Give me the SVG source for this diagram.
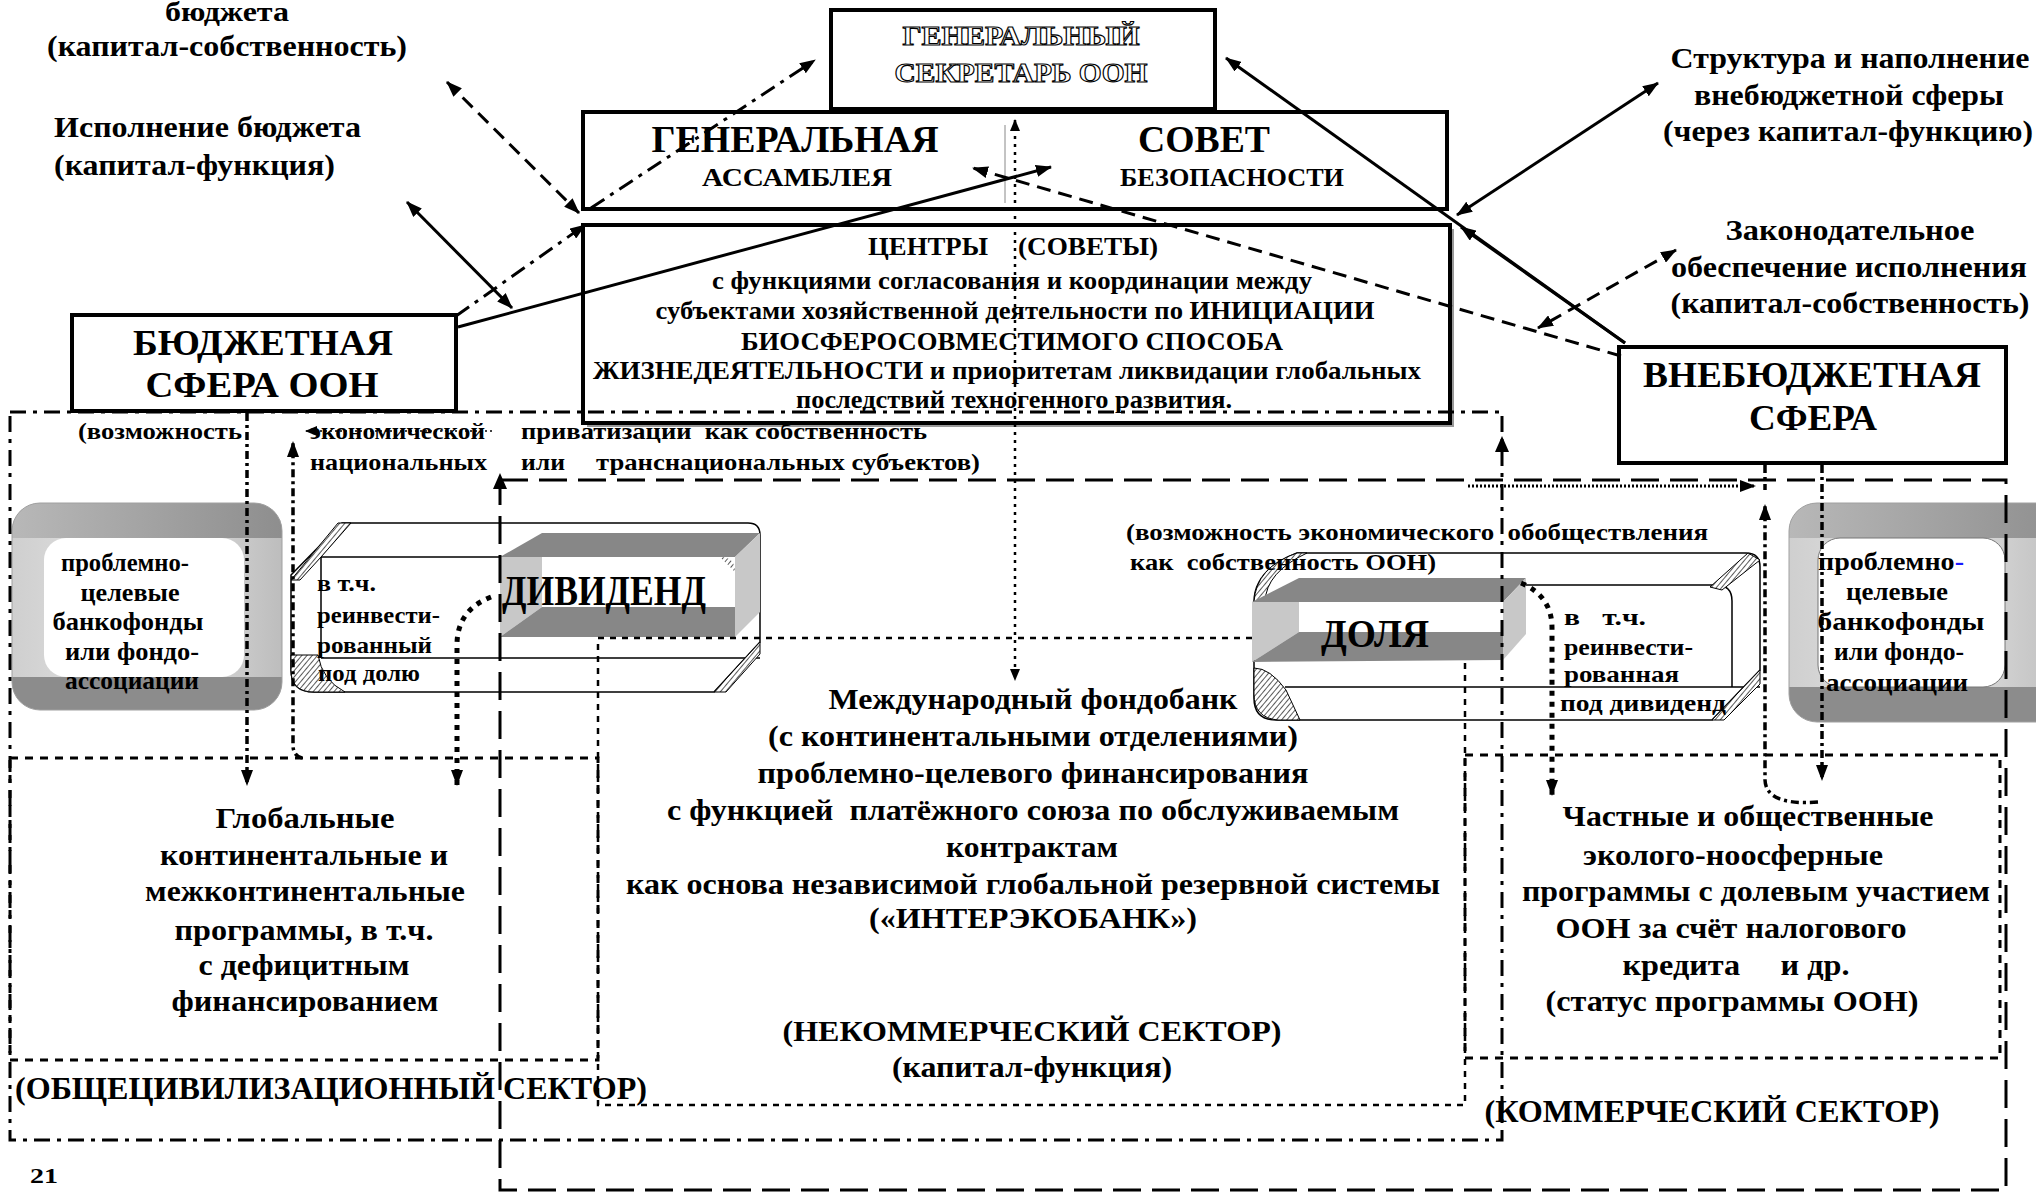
<svg xmlns="http://www.w3.org/2000/svg" width="2036" height="1192" viewBox="0 0 2036 1192">
<style>
.t{font-family:"Liberation Serif","Times New Roman",serif;font-weight:bold;fill:#000}
.c{text-anchor:middle}
.box{fill:#fff;stroke:#000;stroke-width:4}
.ln{fill:none;stroke:#000;stroke-width:3}
.thin{fill:none;stroke:#000;stroke-width:1.5}
.dash{stroke-dasharray:14 8}
.dd{stroke-dasharray:16 7 4 7}
.brk{stroke-dasharray:8 4 3 4;stroke-width:3.5}
.outline{fill:#fff;stroke:#000;stroke-width:1.1;font-weight:bold}
.dark{fill:#878787}
.light{fill:#c8c8c8}
</style>
<defs>
<marker id="ah" viewBox="0 0 16 12" refX="15" refY="6" markerWidth="16" markerHeight="12" markerUnits="userSpaceOnUse" orient="auto-start-reverse"><path d="M0,0 L16,6 L0,12 z" fill="#000"/></marker>
<marker id="ahs" viewBox="0 0 12 10" refX="11" refY="5" markerWidth="12" markerHeight="10" markerUnits="userSpaceOnUse" orient="auto-start-reverse"><path d="M0,0 L12,5 L0,10 z" fill="#000"/></marker>
<pattern id="hatch" width="4" height="4" patternUnits="userSpaceOnUse" patternTransform="rotate(40)"><rect width="4" height="4" fill="#fff"/><line x1="0" y1="0" x2="0" y2="4" stroke="#000" stroke-width="1.3"/></pattern>
<linearGradient id="gTop" x1="0" y1="0" x2="1" y2="0"><stop offset="0" stop-color="#b8b8b8"/><stop offset="1" stop-color="#8e8e8e"/></linearGradient>
<linearGradient id="gSide" x1="0" y1="0" x2="1" y2="0"><stop offset="0" stop-color="#cfcfcf"/><stop offset="0.5" stop-color="#e6e6e6"/><stop offset="1" stop-color="#bdbdbd"/></linearGradient>
<clipPath id="clipBL"><rect x="12" y="503" width="270" height="207" rx="28"/></clipPath>
<clipPath id="clipBR"><rect x="1789" y="503" width="280" height="219" rx="28"/></clipPath>
</defs>
<rect width="2036" height="1192" fill="#fff"/>

<!-- bank boxes -->
<g id="bank-left">
<g clip-path="url(#clipBL)">
<rect x="12" y="503" width="270" height="207" fill="url(#gSide)"/>
<rect x="12" y="503" width="270" height="35" fill="url(#gTop)"/>
<rect x="12" y="677" width="270" height="33" fill="#8c8c8c"/>
</g>
<rect x="12" y="503" width="270" height="207" rx="28" fill="none" stroke="#a0a0a0" stroke-width="1"/>
<rect x="44" y="538" width="200" height="139" rx="22" fill="#fff"/>
<text class="t c" font-size="25" x="125" y="571" textLength="128" lengthAdjust="spacingAndGlyphs">проблемно-</text>
<text class="t c" font-size="25" x="130" y="601" textLength="99" lengthAdjust="spacingAndGlyphs">целевые</text>
<text class="t c" font-size="25" x="128" y="630" textLength="151" lengthAdjust="spacingAndGlyphs">банкофонды</text>
<text class="t c" font-size="25" x="132" y="660" textLength="134" lengthAdjust="spacingAndGlyphs">или фондо-</text>
<text class="t c" font-size="25" x="132" y="689" textLength="134" lengthAdjust="spacingAndGlyphs">ассоциации</text>
</g>

<g id="bank-right">
<g clip-path="url(#clipBR)">
<rect x="1789" y="503" width="280" height="219" fill="url(#gSide)"/>
<rect x="1789" y="503" width="280" height="35" fill="url(#gTop)"/>
<rect x="1789" y="687" width="280" height="35" fill="#8c8c8c"/>
</g>
<rect x="1789" y="503" width="280" height="219" rx="28" fill="none" stroke="#a0a0a0" stroke-width="1"/>
<rect x="1818" y="538" width="187" height="149" rx="22" fill="#fff" stroke="#777" stroke-width="1"/>
<text class="t c" font-size="25" x="1891" y="570" textLength="146" lengthAdjust="spacingAndGlyphs">проблемно<tspan fill="#1a1aff">-</tspan></text>
<text class="t c" font-size="25" x="1897" y="600" textLength="102" lengthAdjust="spacingAndGlyphs">целевые</text>
<text class="t c" font-size="25" x="1901" y="630" textLength="167" lengthAdjust="spacingAndGlyphs">банкофонды</text>
<text class="t c" font-size="25" x="1899" y="660" textLength="130" lengthAdjust="spacingAndGlyphs">или фондо-</text>
<text class="t c" font-size="25" x="1897" y="691" textLength="142" lengthAdjust="spacingAndGlyphs">ассоциации</text>
</g>

<!-- pipes -->
<g id="pipe-dividend">
<path d="M342,523 H748 Q760,523 760,535 V642 L714,692 H314 Q291,692 291,670 V575 Z" fill="#fff" stroke="#000" stroke-width="1.5"/>
<path d="M321,557 H500 M321,557 V658 M321,658 H760" class="thin"/>
<polygon points="291,580 338,523 351,523 321,557 300,580" fill="url(#hatch)" stroke="#000" stroke-width="1"/>
<path d="M291,655 H318 Q322,680 345,692 H314 Q291,692 291,670 Z" fill="url(#hatch)" stroke="#000" stroke-width="1"/>
<polygon points="714,692 726,692 760,654 760,642" fill="url(#hatch)" stroke="#000" stroke-width="1"/>
<polygon points="500,557 542,533 760,533 735,557" class="dark"/>
<polygon points="735,557 760,533 760,612 735,637" class="light"/>
<polygon points="500,557 542,557 542,607 500,637" class="light"/>
<rect x="542" y="557" width="193" height="50" fill="#fff"/>
<path d="M720,557 Q735,557 735,572 Z" fill="url(#hatch)"/>
<polygon points="500,637 542,607 735,607 735,637" class="dark"/>
<text class="t" font-size="42" x="502" y="605" textLength="204" lengthAdjust="spacingAndGlyphs">ДИВИДЕНД</text>
<text class="t" font-size="24" x="317" y="591" textLength="59" lengthAdjust="spacingAndGlyphs">в т.ч.</text>
<text class="t" font-size="24" x="317" y="623" textLength="123" lengthAdjust="spacingAndGlyphs">реинвести-</text>
<text class="t" font-size="24" x="317" y="653" textLength="115" lengthAdjust="spacingAndGlyphs">рованный</text>
<text class="t" font-size="24" x="318" y="681" textLength="102" lengthAdjust="spacingAndGlyphs">под долю</text>
</g>

<g id="pipe-share">
<path d="M1297,553 H1746 Q1760,553 1760,567 V670 L1712,720 H1276 Q1254,720 1254,698 V602 Q1254,570 1297,553 Z" fill="#fff" stroke="#000" stroke-width="1.5"/>
<path d="M1285,687 H1760 M1526,585 H1716 Q1732,585 1732,601 V687" class="thin"/>
<path d="M1254,602 Q1256,567 1297,553 L1307,553 Q1266,572 1265,602 Z" fill="url(#hatch)" stroke="#000" stroke-width="1"/>
<path d="M1254,668 Q1270,668 1286,690 L1300,720 H1278 Q1254,718 1254,694 Z" fill="url(#hatch)" stroke="#000" stroke-width="1"/>
<polygon points="1710,587 1748,553 1760,560 1722,590" fill="url(#hatch)" stroke="#000" stroke-width="1"/>
<polygon points="1712,720 1760,670 1760,684 1724,720" fill="url(#hatch)" stroke="#000" stroke-width="1"/>
<polygon points="1252,602 1299,578 1526,578 1503,602" class="dark"/>
<polygon points="1503,602 1526,578 1526,634 1503,660" class="light"/>
<polygon points="1252,602 1299,602 1299,632 1252,662" class="light"/>
<rect x="1299" y="602" width="204" height="30" fill="#fff"/>
<polygon points="1252,662 1299,632 1503,632 1503,660" class="dark"/>
<text class="t" font-size="40" x="1321" y="647" textLength="108" lengthAdjust="spacingAndGlyphs">ДОЛЯ</text>
<text class="t" font-size="24" x="1564" y="625" textLength="82" lengthAdjust="spacingAndGlyphs" xml:space="preserve">в   т.ч.</text>
<text class="t" font-size="24" x="1564" y="655" textLength="129" lengthAdjust="spacingAndGlyphs">реинвести-</text>
<text class="t" font-size="24" x="1564" y="682" textLength="115" lengthAdjust="spacingAndGlyphs">рованная</text>
<text class="t" font-size="24" x="1560" y="711" textLength="166" lengthAdjust="spacingAndGlyphs">под дивиденд</text>
</g>

<!-- main boxes -->
<g id="secretary-general">
<rect class="box" x="831" y="10" width="384" height="99"/>
<text class="t c outline" font-size="27" x="1021" y="45" textLength="237" lengthAdjust="spacingAndGlyphs">ГЕНЕРАЛЬНЫЙ</text>
<text class="t c outline" font-size="27" x="1021" y="82" textLength="253" lengthAdjust="spacingAndGlyphs">СЕКРЕТАРЬ ООН</text>
</g>

<g id="assembly-council">
<rect class="box" x="583" y="112" width="864" height="97" stroke-width="5"/>
<line x1="1005" y1="125" x2="1005" y2="203" stroke="#888" stroke-width="1"/>
<text class="t c" font-size="38" x="795" y="152" textLength="287" lengthAdjust="spacingAndGlyphs">ГЕНЕРАЛЬНАЯ</text>
<text class="t c" font-size="26" x="797" y="186" textLength="190" lengthAdjust="spacingAndGlyphs">АССАМБЛЕЯ</text>
<text class="t c" font-size="38" x="1204" y="152" textLength="132" lengthAdjust="spacingAndGlyphs">СОВЕТ</text>
<text class="t c" font-size="26" x="1232" y="186" textLength="224" lengthAdjust="spacingAndGlyphs">БЕЗОПАСНОСТИ</text>
</g>

<g id="centers">
<rect x="587" y="229" width="867" height="198" fill="#999"/>
<rect class="box" x="583" y="225" width="867" height="198"/>
<text class="t" font-size="26" x="868" y="255" textLength="120" lengthAdjust="spacingAndGlyphs">ЦЕНТРЫ</text>
<text class="t" font-size="26" x="1018" y="255" textLength="140" lengthAdjust="spacingAndGlyphs">(СОВЕТЫ)</text>
<text class="t c" font-size="26" x="1012" y="289" textLength="600" lengthAdjust="spacingAndGlyphs">с функциями согласования и координации между</text>
<text class="t c" font-size="26" x="1015" y="319" textLength="719" lengthAdjust="spacingAndGlyphs">субъектами хозяйственной деятельности по ИНИЦИАЦИИ</text>
<text class="t c" font-size="26" x="1012" y="350" textLength="542" lengthAdjust="spacingAndGlyphs">БИОСФЕРОСОВМЕСТИМОГО СПОСОБА</text>
<text class="t c" font-size="26" x="1007" y="379" textLength="828" lengthAdjust="spacingAndGlyphs">ЖИЗНЕДЕЯТЕЛЬНОСТИ и приоритетам ликвидации глобальных</text>
<text class="t c" font-size="26" x="1014" y="408" textLength="436" lengthAdjust="spacingAndGlyphs">последствий техногенного развития.</text>
</g>

<g id="budget-sphere">
<rect class="box" x="72" y="315" width="384" height="96"/>
<text class="t c" font-size="35" x="263" y="355" textLength="260" lengthAdjust="spacingAndGlyphs">БЮДЖЕТНАЯ</text>
<text class="t c" font-size="35" x="262" y="397" textLength="233" lengthAdjust="spacingAndGlyphs">СФЕРА ООН</text>
</g>

<g id="extrabudget-sphere">
<rect class="box" x="1619" y="347" width="387" height="116"/>
<text class="t c" font-size="36" x="1812" y="387" textLength="338" lengthAdjust="spacingAndGlyphs">ВНЕБЮДЖЕТНАЯ</text>
<text class="t c" font-size="36" x="1813" y="430" textLength="128" lengthAdjust="spacingAndGlyphs">СФЕРА</text>
</g>

<!-- sector frames -->
<g id="frames">
<path id="frame-civil" class="ln dd" d="M10,412 H1502 V1140 H10 Z"/>
<rect id="frame-commercial" class="ln" x="500" y="480" width="1506" height="710" stroke-dasharray="28 11"/>
<rect id="frame-global-programs" class="ln" x="10" y="758" width="588" height="302" stroke-dasharray="8 7"/>
<rect id="frame-private-programs" class="ln" x="1465" y="755" width="535" height="303" stroke-dasharray="8 7"/>
<path id="frame-noncommercial" fill="none" stroke="#000" stroke-width="2.5" stroke-dasharray="6 6" d="M1252,638 H598 V1105 H1465 V663"/>
</g>

<!-- connectors -->
<g id="connectors">
<path class="ln dash" d="M447,82 L579,213" marker-start="url(#ah)" marker-end="url(#ah)"/>
<path class="ln" d="M407,202 L512,308" marker-start="url(#ah)" marker-end="url(#ah)"/>
<path class="ln dd" d="M456,316 L585,225" marker-end="url(#ah)"/>
<path class="ln dd" d="M591,208 L815,60" marker-end="url(#ah)"/>
<path class="ln" stroke-width="2.5" d="M458,327 L1051,167" marker-end="url(#ah)"/>
<path class="ln dash" d="M1621,356 L973,168" marker-end="url(#ah)"/>
<path class="ln" d="M1625,343 L1226,58" marker-end="url(#ah)"/>
<path class="ln" d="M1625,343 L1461,227" marker-end="url(#ah)"/>
<path class="ln" d="M1658,83 L1457,215" marker-start="url(#ah)" marker-end="url(#ah)"/>
<path class="ln dash" d="M1676,250 L1538,328" marker-start="url(#ah)" marker-end="url(#ah)"/>
<path fill="none" stroke="#000" stroke-width="2.5" stroke-dasharray="3 5" d="M1015,120 L1015,680" marker-start="url(#ahs)" marker-end="url(#ahs)"/>
<path class="ln brk" d="M247,413 L247,785" marker-end="url(#ah)"/>
<path class="ln brk" d="M302,758 Q293,756 293,745 L293,442" marker-end="url(#ah)"/>
<path fill="none" stroke="#000" stroke-width="1.5" stroke-dasharray="2 3" d="M492,431 L306,431" marker-end="url(#ahs)"/>
<path fill="none" stroke="#000" stroke-width="5" stroke-dasharray="5 6" d="M491,597 Q457,610 457,645 L457,785" marker-end="url(#ah)"/>
<path fill="none" stroke="#000" stroke-width="5" stroke-dasharray="5 6" d="M1521,583 Q1552,596 1552,628 L1552,795" marker-end="url(#ah)"/>
<path class="ln brk" d="M1818,802 Q1766,806 1765,780 L1765,505" marker-end="url(#ah)"/>
<path class="ln brk" d="M1765,465 L1765,490"/>
<path class="ln brk" d="M1822,465 L1822,780" marker-end="url(#ah)"/>
<path fill="none" stroke="#000" stroke-width="3" stroke-dasharray="2 2" d="M1468,486 L1755,486" marker-end="url(#ah)"/>
<polygon points="1502,436 1495,452 1509,452" fill="#000"/>
<polygon points="500,473 493,489 507,489" fill="#000"/>
</g>

<!-- free labels -->
<g id="labels">
<text class="t c" font-size="28" x="227" y="21" textLength="124" lengthAdjust="spacingAndGlyphs">бюджета</text>
<text class="t c" font-size="30" x="227" y="56" textLength="360" lengthAdjust="spacingAndGlyphs">(капитал-собственность)</text>
<text class="t" font-size="30" x="54" y="137" textLength="307" lengthAdjust="spacingAndGlyphs">Исполнение бюджета</text>
<text class="t" font-size="30" x="54" y="175" textLength="281" lengthAdjust="spacingAndGlyphs">(капитал-функция)</text>
<text class="t c" font-size="30" x="1850" y="68" textLength="359" lengthAdjust="spacingAndGlyphs">Структура и наполнение</text>
<text class="t c" font-size="30" x="1849" y="105" textLength="310" lengthAdjust="spacingAndGlyphs">внебюджетной сферы</text>
<text class="t c" font-size="30" x="1848" y="141" textLength="370" lengthAdjust="spacingAndGlyphs">(через капитал-функцию)</text>
<text class="t c" font-size="30" x="1850" y="240" textLength="249" lengthAdjust="spacingAndGlyphs">Законодательное</text>
<text class="t c" font-size="30" x="1849" y="277" textLength="356" lengthAdjust="spacingAndGlyphs">обеспечение исполнения</text>
<text class="t c" font-size="30" x="1850" y="313" textLength="359" lengthAdjust="spacingAndGlyphs">(капитал-собственность)</text>

<text class="t" font-size="24" x="78" y="439" textLength="164" lengthAdjust="spacingAndGlyphs">(возможность</text>
<text class="t" font-size="24" x="310" y="439" textLength="175" lengthAdjust="spacingAndGlyphs">экономической</text>
<text class="t" font-size="24" x="521" y="439" textLength="406" lengthAdjust="spacingAndGlyphs" xml:space="preserve">приватизации  как собственность</text>
<text class="t" font-size="24" x="310" y="470" textLength="177" lengthAdjust="spacingAndGlyphs">национальных</text>
<text class="t" font-size="24" x="521" y="470" textLength="44" lengthAdjust="spacingAndGlyphs">или</text>
<text class="t" font-size="24" x="596" y="470" textLength="384" lengthAdjust="spacingAndGlyphs">транснациональных субъектов)</text>

<text class="t" font-size="24" x="1126" y="540" textLength="582" lengthAdjust="spacingAndGlyphs" xml:space="preserve">(возможность экономического  обобществления</text>
<text class="t" font-size="24" x="1130" y="570" textLength="306" lengthAdjust="spacingAndGlyphs" xml:space="preserve">как  собственность ООН)</text>

<text class="t c" font-size="30" x="1033" y="709" textLength="409" lengthAdjust="spacingAndGlyphs">Международный фондобанк</text>
<text class="t c" font-size="30" x="1033" y="746" textLength="530" lengthAdjust="spacingAndGlyphs">(с континентальными отделениями)</text>
<text class="t c" font-size="30" x="1033" y="783" textLength="551" lengthAdjust="spacingAndGlyphs">проблемно-целевого финансирования</text>
<text class="t c" font-size="30" x="1033" y="820" textLength="732" lengthAdjust="spacingAndGlyphs" xml:space="preserve">с функцией  платёжного союза по обслуживаемым</text>
<text class="t c" font-size="30" x="1032" y="857" textLength="172" lengthAdjust="spacingAndGlyphs">контрактам</text>
<text class="t c" font-size="30" x="1033" y="894" textLength="814" lengthAdjust="spacingAndGlyphs">как основа независимой глобальной резервной системы</text>
<text class="t c" font-size="30" x="1033" y="928" textLength="328" lengthAdjust="spacingAndGlyphs">(«ИНТЕРЭКОБАНК»)</text>
<text class="t c" font-size="30" x="1032" y="1041" textLength="499" lengthAdjust="spacingAndGlyphs">(НЕКОММЕРЧЕСКИЙ СЕКТОР)</text>
<text class="t c" font-size="30" x="1032" y="1077" textLength="280" lengthAdjust="spacingAndGlyphs">(капитал-функция)</text>

<text class="t c" font-size="30" x="305" y="828" textLength="179" lengthAdjust="spacingAndGlyphs">Глобальные</text>
<text class="t c" font-size="30" x="304" y="865" textLength="288" lengthAdjust="spacingAndGlyphs">континентальные и</text>
<text class="t c" font-size="30" x="305" y="901" textLength="320" lengthAdjust="spacingAndGlyphs">межконтинентальные</text>
<text class="t c" font-size="30" x="304" y="940" textLength="259" lengthAdjust="spacingAndGlyphs">программы, в т.ч.</text>
<text class="t c" font-size="30" x="304" y="975" textLength="211" lengthAdjust="spacingAndGlyphs">с дефицитным</text>
<text class="t c" font-size="30" x="305" y="1011" textLength="267" lengthAdjust="spacingAndGlyphs">финансированием</text>
<text class="t" font-size="32" x="15" y="1099" textLength="632" lengthAdjust="spacingAndGlyphs">(ОБЩЕЦИВИЛИЗАЦИОННЫЙ СЕКТОР)</text>
<text class="t" font-size="22" x="30" y="1183" textLength="28" lengthAdjust="spacingAndGlyphs">21</text>

<text class="t c" font-size="30" x="1748" y="826" textLength="371" lengthAdjust="spacingAndGlyphs">Частные и общественные</text>
<text class="t c" font-size="30" x="1733" y="865" textLength="300" lengthAdjust="spacingAndGlyphs">эколого-ноосферные</text>
<text class="t c" font-size="30" x="1756" y="901" textLength="468" lengthAdjust="spacingAndGlyphs">программы с долевым участием</text>
<text class="t c" font-size="30" x="1731" y="938" textLength="351" lengthAdjust="spacingAndGlyphs">ООН за счёт налогового</text>
<text class="t c" font-size="30" x="1736" y="975" textLength="227" lengthAdjust="spacingAndGlyphs" xml:space="preserve">кредита     и др.</text>
<text class="t c" font-size="30" x="1732" y="1011" textLength="373" lengthAdjust="spacingAndGlyphs">(статус программы ООН)</text>
<text class="t c" font-size="32" x="1712" y="1122" textLength="455" lengthAdjust="spacingAndGlyphs">(КОММЕРЧЕСКИЙ СЕКТОР)</text>
</g>
</svg>
